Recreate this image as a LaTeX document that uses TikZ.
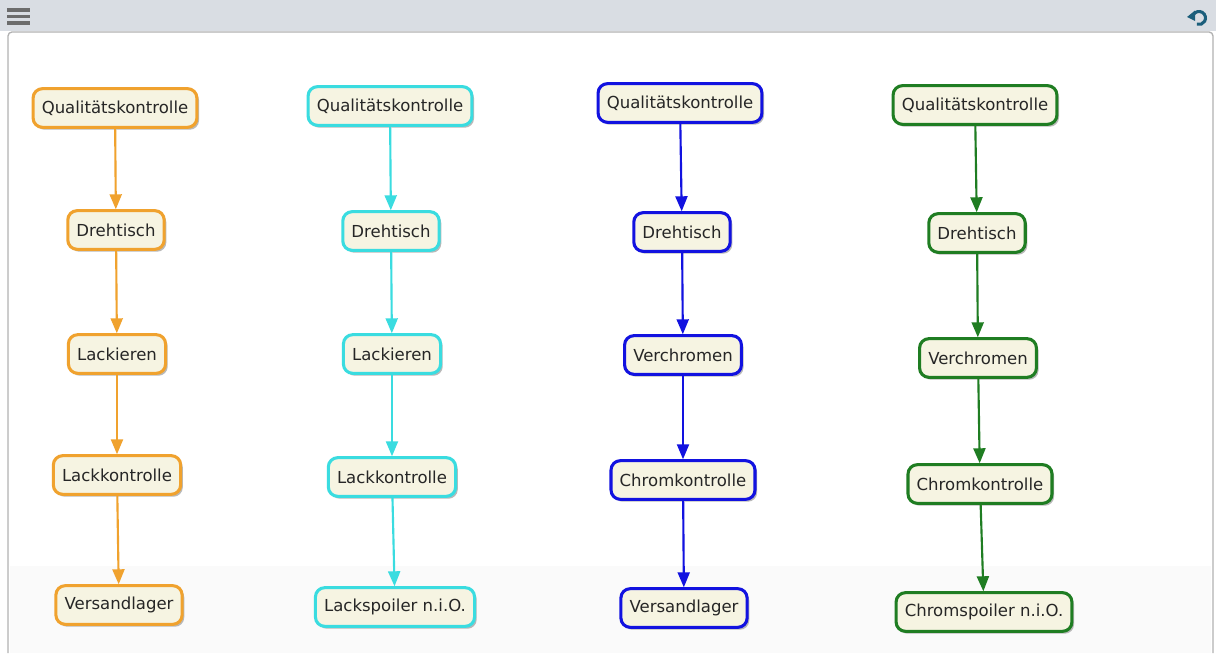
\documentclass[tikz,border=0pt]{standalone}
\usepackage{fontspec}
\setmainfont{DejaVu Sans}
\usepackage{tikz}
\usetikzlibrary{arrows, shadows}

\definecolor{barGray}{HTML}{D9DDE3}
\definecolor{iconTeal}{HTML}{1B5E7B}
\definecolor{boxFill}{HTML}{F6F4E2}
\definecolor{cOrange}{HTML}{F0A22E}
\definecolor{cCyan}{HTML}{3ADCE0}
\definecolor{cBlue}{HTML}{1212E0}
\definecolor{cGreen}{HTML}{1F7D22}

\begin{document}
\begin{tikzpicture}[x=0.75pt, y=-0.75pt, >=triangle 45, semithick,
    box/.style={draw=#1, rounded corners=7pt, fill=boxFill, line width=2.3pt,
        minimum height=29pt, inner xsep=6.5pt, text=black!85,
        font=\fontsize{12.4}{14}\selectfont,
        drop shadow={shadow xshift=1.6pt, shadow yshift=-1.8pt, opacity=0.55}},
    flow/.style={->, line width=1.6pt, draw=#1}]
    \useasboundingbox (0,0) rectangle (1216,653);
    % frame
    \fill[barGray] (0,0) rectangle (1216,31);
    \draw[gray!60, fill=white, line width=1pt, rounded corners=3pt] (8,653) -- (8,32) -- (1213,32) -- (1213,653);
    \fill[gray!4] (10,566) rectangle (1211,653);
    \foreach \y in {10,16.5,23}
        \fill[gray!85!black] (7,\y-1.7) rectangle (30,\y+1.7);
    \draw[iconTeal, line width=2.3pt] ([shift={(1199,18)}]-150:6.5) arc (-150:110:6.5);
    \fill[iconTeal] (1187,17) -- (1195,10.5) -- (1195,21) -- cycle;

    % orange
    \node[box=cOrange] (q1) at (115,108) {Qualitätskontrolle};
    \node[box=cOrange] (d1) at (116,230) {Drehtisch};
    \node[box=cOrange] (l1) at (117,354) {Lackieren};
    \node[box=cOrange] (k1) at (117,475) {Lackkontrolle};
    \node[box=cOrange] (v1) at (119,605) {Versandlager};
    % cyan
    \node[box=cCyan] (q2) at (390,106) {Qualitätskontrolle};
    \node[box=cCyan] (d2) at (391,231) {Drehtisch};
    \node[box=cCyan] (l2) at (392,354) {Lackieren};
    \node[box=cCyan] (k2) at (392,477) {Lackkontrolle};
    \node[box=cCyan] (v2) at (395,607) {Lackspoiler n.i.O.};
    % blue
    \node[box=cBlue] (q3) at (680,103) {Qualitätskontrolle};
    \node[box=cBlue] (d3) at (682,232) {Drehtisch};
    \node[box=cBlue] (l3) at (683,355) {Verchromen};
    \node[box=cBlue] (k3) at (683,480) {Chromkontrolle};
    \node[box=cBlue] (v3) at (684,608) {Versandlager};
    % green
    \node[box=cGreen] (q4) at (975,105) {Qualitätskontrolle};
    \node[box=cGreen] (d4) at (977,233) {Drehtisch};
    \node[box=cGreen] (l4) at (978,358) {Verchromen};
    \node[box=cGreen] (k4) at (980,484) {Chromkontrolle};
    \node[box=cGreen] (v4) at (984,612) {Chromspoiler n.i.O.};

    \foreach \i/\c in {1/cOrange, 2/cCyan, 3/cBlue, 4/cGreen} {
        \draw[flow=\c] (q\i) -- (d\i);
        \draw[flow=\c] (d\i) -- (l\i);
        \draw[flow=\c] (l\i) -- (k\i);
        \draw[flow=\c] (k\i) -- (v\i);
    }
\end{tikzpicture}
\end{document}
